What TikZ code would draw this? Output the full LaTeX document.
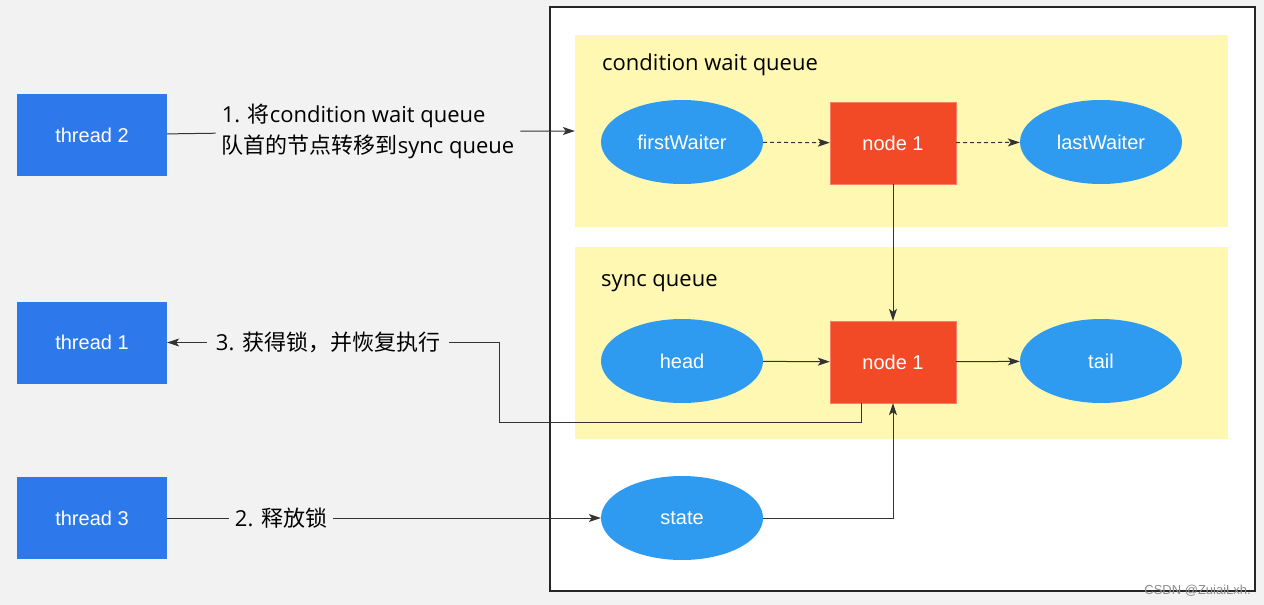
\documentclass[tikz,border=0pt]{standalone}
\usepackage{fontspec}
\setmainfont{Liberation Sans}
\newfontfamily\opensans{Open Sans}
\newfontfamily\cjk{Noto Sans CJK SC}
\usetikzlibrary{arrows.meta,shapes.geometric}
\definecolor{bggray}{HTML}{F2F2F2}
\definecolor{queueyellow}{HTML}{FFF8B3}
\definecolor{threadblue}{HTML}{2D78EA}
\definecolor{ptrblue}{HTML}{2E9BF0}
\definecolor{nodered}{HTML}{F24A26}
\definecolor{lineg}{HTML}{333333}
\tikzset{
  threadbox/.style={fill=threadblue,text=white,minimum width=150,minimum height=82,inner sep=0pt,font=\fontsize{20}{24}\selectfont},
  ptr/.style={ellipse,fill=ptrblue,text=white,minimum width=162,minimum height=84,inner sep=0pt,font=\fontsize{20}{24}\selectfont},
  qnode/.style={fill=nodered,draw=nodered!70!white,text=white,minimum width=126,minimum height=82,inner sep=0pt,font=\fontsize{20}{24}\selectfont},
  region/.style={fill=queueyellow,minimum width=653,minimum height=192,inner sep=0pt},
  lbl/.style={inner sep=6pt,font=\opensans\fontsize{22}{31}\selectfont,align=left},
  link/.style={draw=lineg,line width=1pt,-{Stealth[length=12pt,width=8pt,inset=3pt,fill=lineg]}},
}
\begin{document}
\begin{tikzpicture}[x=1pt,y=-1pt]
\fill[bggray] (0,0) rectangle (1264,605);
\draw[line width=1.8pt,draw=black!85,fill=white] (550,7) rectangle (1255,591);
\node[region] (cq) at (901.5,131) {};
\node[region] (sq) at (901.5,342.5) {};
\node[anchor=base west,font=\opensans\fontsize{22}{26}\selectfont,inner sep=0pt] (cqt) at (602,70) {condition wait queue};
\node[anchor=base west,font=\opensans\fontsize{22}{26}\selectfont,inner sep=0pt] (sqt) at (601,286) {sync queue};
\foreach \y/\n/\t in {135/t2/thread 2, 342.5/t1/thread 1, 518/t3/thread 3}
  \node[threadbox] (\n) at (92,\y) {\t};
\foreach \x/\y/\n/\t in {682/142/fw/firstWaiter, 1101/142/lw/lastWaiter, 682/361/hd/head, 1101/361/tl/tail, 682/518/st/state}
  \node[ptr] (\n) at (\x,\y) {\t};
\foreach \y/\n in {143/na, 362/nb}
  \node[qnode] (\n) at (893,\y) {node 1};
\node[lbl] (l1) at (368,131) {1. {\cjk 将}condition wait queue\\{\cjk 队首的节点转移到}sync queue};
\node[lbl,inner xsep=9pt] (l3) at (328,342.5) {3. {\cjk 获得锁，并恢复执行}};
\node[lbl] (l2) at (281,518) {2. {\cjk 释放锁}};
\node[text=black!45,font=\fontsize{13}{15}\selectfont,anchor=base east,inner sep=0pt] (mark) at (1251,594) {CSDN @ZuiaiLxh.};
\coordinate (bend) at (499,422);
% connectors
\foreach \s/\t in {fw/na, na/lw}
  \draw[link,dash pattern=on 4pt off 3pt] (\s) -- (\t);
\foreach \s/\t in {hd/nb, nb/tl, na/nb}
  \draw[link] (\s) -- (\t);
\draw[link] (st) -| (nb);
\draw[link] (t2) -- (l1) -- (cq);
\draw[link] (t3) -- (l2) -- (st);
\draw[link] ([xshift=-32]nb.south) |- (bend) |- (l3) -- (t1);
\end{tikzpicture}
\end{document}
